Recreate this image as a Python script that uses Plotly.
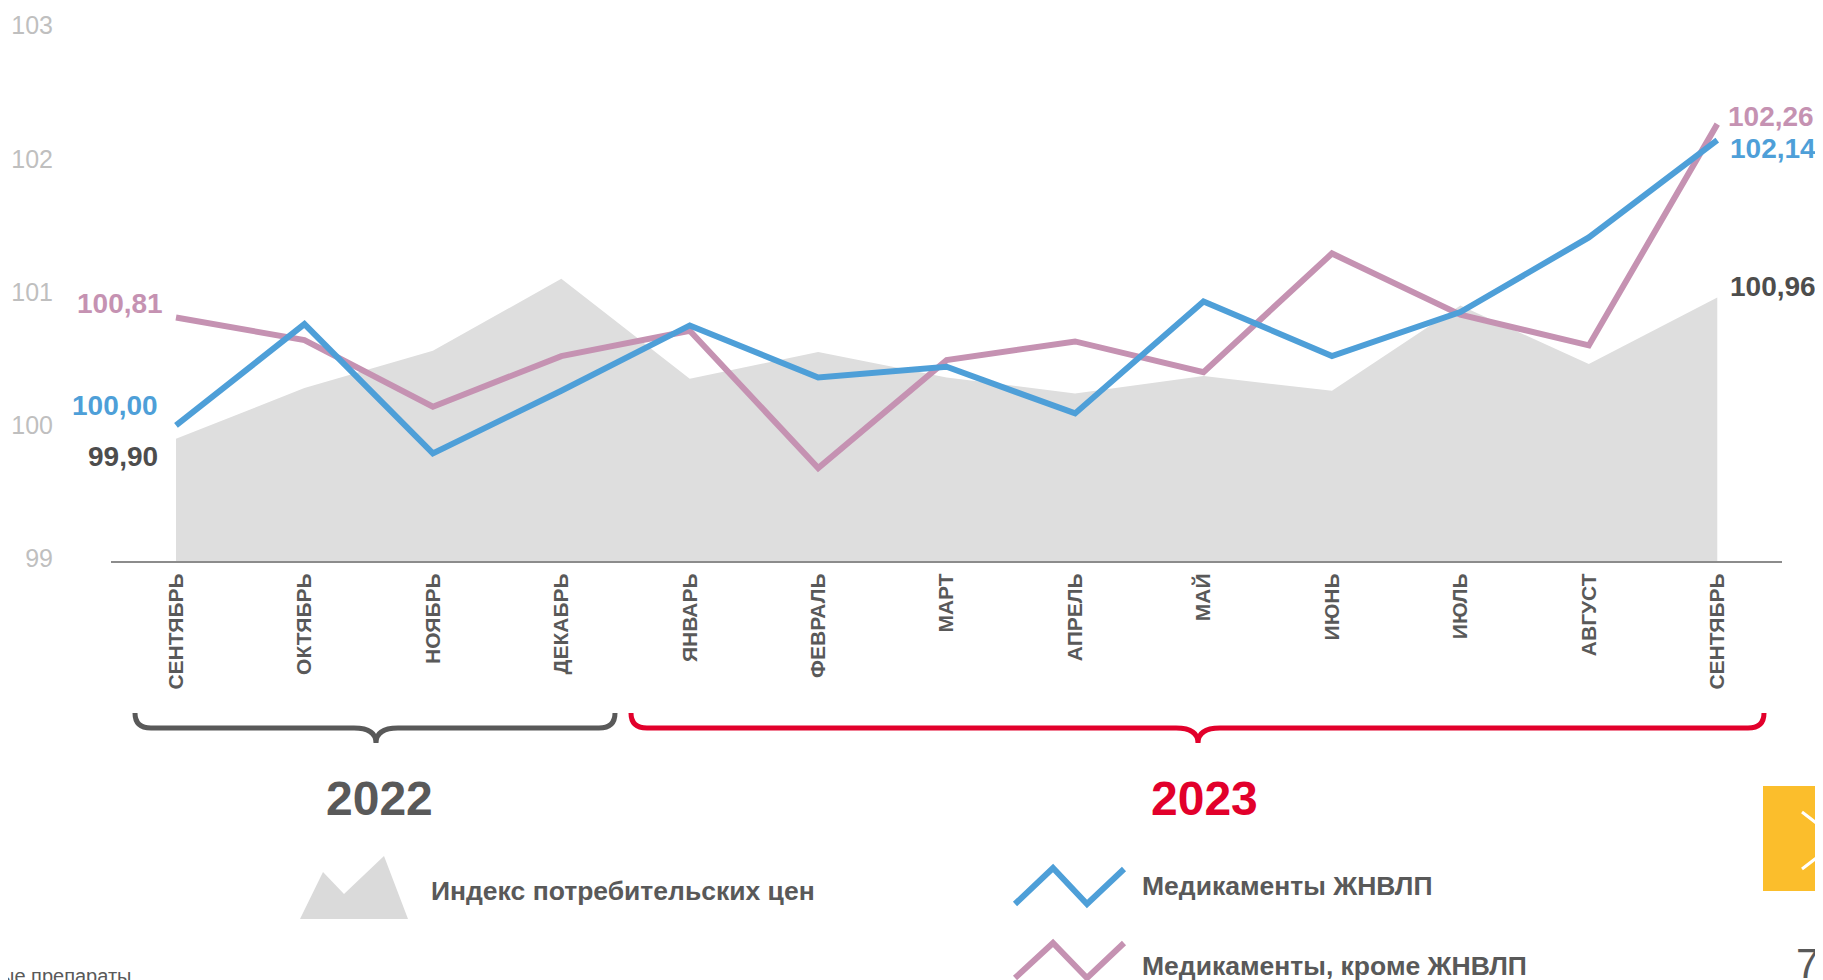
import plotly.graph_objects as go

# ---------------- data ----------------
months = ["СЕНТЯБРЬ", "ОКТЯБРЬ", "НОЯБРЬ", "ДЕКАБРЬ", "ЯНВАРЬ", "ФЕВРАЛЬ", "МАРТ",
          "АПРЕЛЬ", "МАЙ", "ИЮНЬ", "ИЮЛЬ", "АВГУСТ", "СЕНТЯБРЬ"]
cpi = [99.90, 100.28, 100.56, 101.10, 100.35, 100.55, 100.36, 100.24, 100.37, 100.26, 100.90, 100.46, 100.96]
vital = [100.00, 100.76, 99.79, 100.26, 100.75, 100.36, 100.44, 100.09, 100.93, 100.52, 100.85, 101.41, 102.14]
other = [100.81, 100.64, 100.14, 100.52, 100.71, 99.68, 100.49, 100.63, 100.40, 101.29, 100.83, 100.60, 102.26]
y_ticks = [99, 100, 101, 102, 103]
years = ["2022", "2023"]
series_names = ["Индекс потребительских цен", "Медикаменты ЖНВЛП", "Медикаменты, кроме ЖНВЛП"]
footnote = "ые препараты"
page_no = "7"

# ---------------- style ----------------
FONT = "Liberation Sans, Arial, sans-serif"
C_CPI = "#DEDEDE"
C_VIT = "#4E9FD8"
C_OTH = "#C592B2"
C_DARK = "#595959"
C_LBL = "#4D4D4D"
C_RED = "#E2002B"

# page offset (browser body margin)
OX, OY = 8, 8
W, H = 1823 - OX, 980 - OY
ML, MR, MT, MB = 111 - OX, 41, 12 - OY, 419
PW, PH = W - ML - MR, H - MT - MB


def X(px):
    """page pixel x -> paper"""
    return (px - OX - ML) / PW


def Y(py):
    """page pixel y -> paper"""
    return (H - MB - (py - OY)) / PH


def fmt(v):
    return f"{v:.2f}".replace(".", ",")


idx = list(range(len(months)))

fig = go.Figure()
fig.add_trace(go.Scatter(x=idx, y=cpi, mode="lines", fill="tozeroy", fillcolor=C_CPI,
                         line=dict(width=0, color=C_CPI), name=series_names[0], hoverinfo="skip"))
fig.add_trace(go.Scatter(x=idx, y=other, mode="lines", line=dict(width=6, color=C_OTH),
                         name=series_names[2]))
fig.add_trace(go.Scatter(x=idx, y=vital, mode="lines", line=dict(width=6, color=C_VIT),
                         name=series_names[1]))

annotations = []
first, last = 0, len(months) - 1
end_labels = [
    (first, other[first], C_OTH, "right", -11, 14),
    (first, vital[first], C_VIT, "right", -16, 20),
    (first, cpi[first], C_LBL, "right", -16, -18),
    (last, other[last], C_OTH, "left", 9, 8),
    (last, vital[last], C_VIT, "left", 11, -8),
    (last, cpi[last], C_LBL, "left", 11, 11),
]
for xi, v, col, xa, xs, ys in end_labels:
    annotations.append(dict(x=xi, y=v, xref="x", yref="y", text=fmt(v), showarrow=False,
                            xanchor=xa, yanchor="middle", xshift=xs, yshift=ys,
                            font=dict(family=FONT, size=28, color=col, weight="bold")))

annotations.append(dict(x=X(379), y=Y(798), xref="paper", yref="paper", text=years[0], showarrow=False,
                        xanchor="center", yanchor="middle",
                        font=dict(family=FONT, size=48, color=C_DARK, weight="bold")))
annotations.append(dict(x=X(1204), y=Y(798), xref="paper", yref="paper", text=years[1], showarrow=False,
                        xanchor="center", yanchor="middle",
                        font=dict(family=FONT, size=48, color=C_RED, weight="bold")))

for txt, px, py in [(series_names[0], 429, 890.5), (series_names[1], 1140, 886), (series_names[2], 1140, 966)]:
    annotations.append(dict(x=X(px), y=Y(py), xref="paper", yref="paper", text=txt, showarrow=False,
                            xanchor="left", yanchor="middle",
                            font=dict(family=FONT, size=26.5, color=C_DARK, weight="bold")))

annotations.append(dict(x=X(133), y=Y(976), xref="paper", yref="paper", text=footnote, showarrow=False,
                        xanchor="right", yanchor="middle", font=dict(family=FONT, size=20, color=C_DARK)))
annotations.append(dict(x=X(1807), y=Y(963), xref="paper", yref="paper", text=page_no, showarrow=False,
                        xanchor="center", yanchor="middle", font=dict(family=FONT, size=42, color=C_DARK)))


def P(points):
    return " ".join(("M" if i == 0 else "L") + f" {X(a)},{Y(b)}" for i, (a, b) in enumerate(points))


def brace(x0, x1, xc, ytop=713, ymid=728, ytip=743, r=16, s=22):
    return (f"M {X(x0)},{Y(ytop)} Q {X(x0)},{Y(ymid)} {X(x0 + r)},{Y(ymid)} "
            f"L {X(xc - s)},{Y(ymid)} Q {X(xc)},{Y(ymid)} {X(xc)},{Y(ytip)} "
            f"Q {X(xc)},{Y(ymid)} {X(xc + s)},{Y(ymid)} "
            f"L {X(x1 - r)},{Y(ymid)} Q {X(x1)},{Y(ymid)} {X(x1)},{Y(ytop)}")


shapes = [
    dict(type="path", xref="paper", yref="paper", path=brace(135, 615, 376),
         line=dict(color=C_DARK, width=5)),
    dict(type="path", xref="paper", yref="paper", path=brace(631, 1764, 1198),
         line=dict(color=C_RED, width=5)),
    dict(type="path", xref="paper", yref="paper",
         path=P([(300, 919), (323, 872), (344, 894), (384, 856), (408, 919)]) + " Z",
         fillcolor="#DADADA", line=dict(width=0)),
    dict(type="path", xref="paper", yref="paper",
         path=P([(1015, 904), (1053, 868), (1087, 904), (1124, 869)]),
         line=dict(color=C_VIT, width=6)),
    dict(type="path", xref="paper", yref="paper",
         path=P([(1015, 978), (1053, 943), (1087, 978), (1124, 943)]),
         line=dict(color=C_OTH, width=6)),
    dict(type="rect", xref="paper", yref="paper", x0=X(1763), x1=X(1830), y0=Y(786), y1=Y(891),
         fillcolor="#FBBE2C", line=dict(width=0)),
    dict(type="path", xref="paper", yref="paper",
         path=P([(1802, 812), (1839, 840.5), (1802, 869)]),
         line=dict(color="white", width=3)),
]

fig.update_layout(
    width=W, height=H,
    margin=dict(l=ML, r=MR, t=MT, b=MB, autoexpand=False),
    paper_bgcolor="white", plot_bgcolor="white",
    showlegend=False,
    font=dict(family=FONT),
    annotations=annotations,
    shapes=shapes,
    xaxis=dict(range=[-0.506, 12.504], tickvals=idx, ticktext=months, tickangle=-90,
               tickfont=dict(family=FONT, size=21, color=C_DARK, weight="bold"),
               showgrid=False, zeroline=False, showline=True, linecolor="#8C8C8C", linewidth=2,
               ticks="", ticklabelstandoff=2, fixedrange=True),
    yaxis=dict(range=[98.983, 103.101], tickvals=y_ticks, ticktext=[str(t) for t in y_ticks],
               tickfont=dict(family=FONT, size=25, color="#BFBFBF"),
               showgrid=False, zeroline=False, showline=False, ticks="",
               ticklabelstandoff=57, fixedrange=True),
)

fig.write_html("out.html")
